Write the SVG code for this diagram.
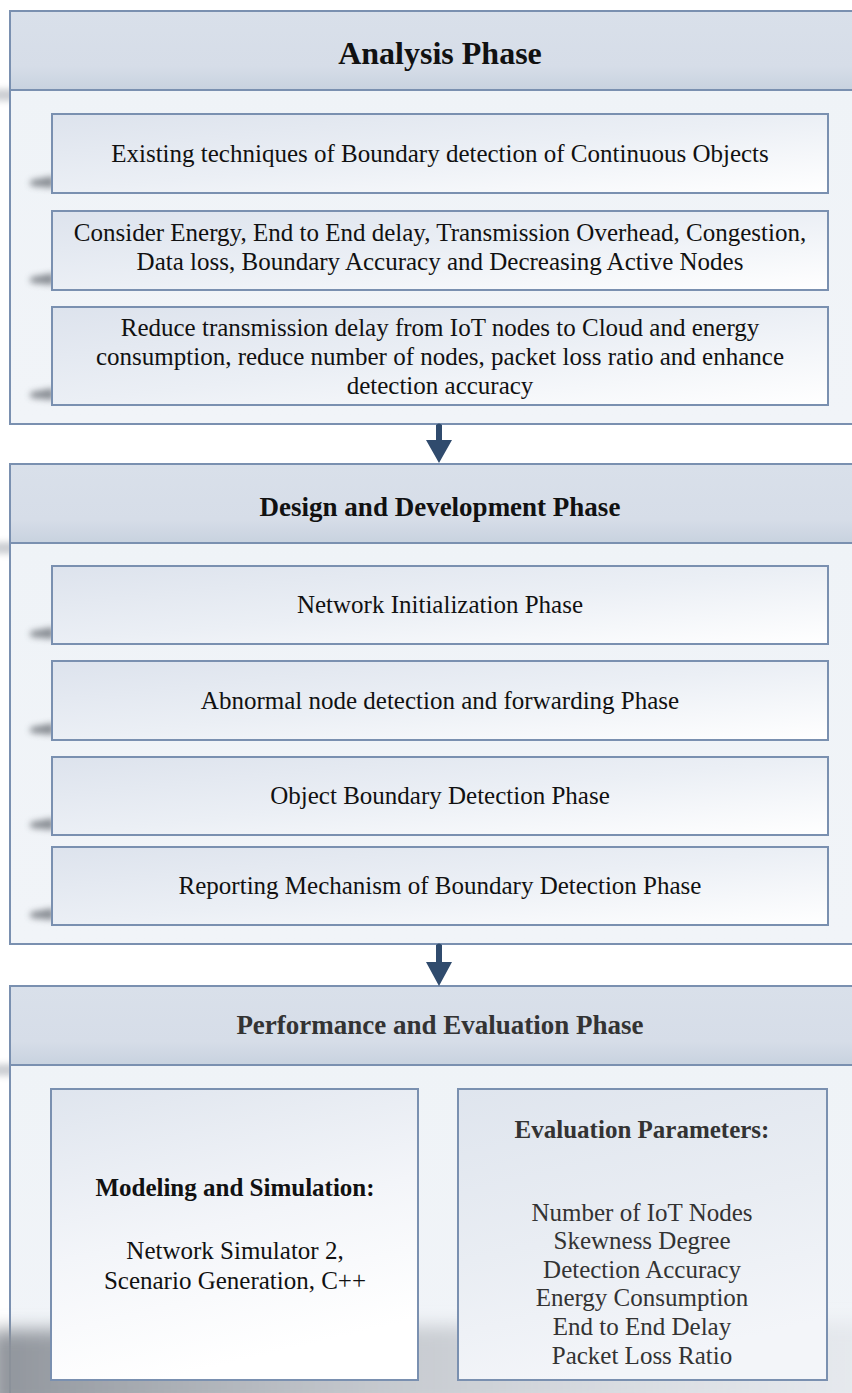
<svg xmlns="http://www.w3.org/2000/svg" width="852" height="1393" viewBox="0 0 852 1393">
  <defs>
    <linearGradient id="hdr" x1="0" y1="0" x2="0" y2="1">
      <stop offset="0" stop-color="#d9e0ea"/>
      <stop offset="0.7" stop-color="#d6dde8"/>
      <stop offset="1" stop-color="#c8d2df"/>
    </linearGradient>
    <linearGradient id="body" x1="0" y1="0" x2="0" y2="1">
      <stop offset="0" stop-color="#e6ebf2"/>
      <stop offset="0.15" stop-color="#eff3f7"/>
      <stop offset="1" stop-color="#f1f4f8"/>
    </linearGradient>
    <linearGradient id="item" x1="0" y1="0" x2="1" y2="1">
      <stop offset="0" stop-color="#dde3ed"/>
      <stop offset="0.5" stop-color="#ebeff5"/>
      <stop offset="1" stop-color="#ffffff"/>
    </linearGradient>
    <linearGradient id="tall" x1="0" y1="0" x2="0.3" y2="1">
      <stop offset="0" stop-color="#dfe5ee"/>
      <stop offset="0.55" stop-color="#f3f5f9"/>
      <stop offset="1" stop-color="#ffffff"/>
    </linearGradient>
    <linearGradient id="tallR" x1="0" y1="0" x2="0.3" y2="1">
      <stop offset="0" stop-color="#dfe5ee"/>
      <stop offset="0.55" stop-color="#e9edf3"/>
      <stop offset="1" stop-color="#f3f5f9"/>
    </linearGradient>
    <linearGradient id="floor" x1="0" y1="0" x2="1" y2="0">
      <stop offset="0" stop-color="#8a8f96" stop-opacity="0.95"/>
      <stop offset="0.45" stop-color="#b4b8be" stop-opacity="0.7"/>
      <stop offset="1" stop-color="#d8dbe0" stop-opacity="0.4"/>
    </linearGradient>
    <filter id="soft" x="-50%" y="-200%" width="200%" height="500%">
      <feGaussianBlur stdDeviation="3"/>
    </filter>
    <filter id="wide" x="-20%" y="-50%" width="140%" height="200%">
      <feGaussianBlur stdDeviation="9"/>
    </filter>
    <style>
      .frame { stroke: #7a90b0; stroke-width: 2; }
      .item { fill: url(#item); stroke: #7a90b0; stroke-width: 2; }
      .shade { fill: #6f747b; opacity: 0.8; filter: url(#soft); }
      .hshade { fill: #a9aeb5; opacity: 0.6; filter: url(#soft); }
      text { font-family: "Liberation Serif", "Times New Roman", serif; fill: #111; text-anchor: middle; }
      .t1 { font-size: 32px; font-weight: bold; }
      .t2 { font-size: 27px; font-weight: bold; }
      .t3 { font-size: 27px; font-weight: bold; fill: #333; }
      .b { font-size: 25px; }
      .bb { font-size: 25px; font-weight: bold; }
      .g { fill: #333; }
      .arrow { fill: #304b6d; }
    </style>
    <!-- tapered drop shadow cast to the lower left of each item box -->
    <path id="wedge" d="M0 -7 L-22 -3 Q-26 0 -22 3 L0 5 Z"/>
  </defs>

  <!-- Analysis phase -->
  <g id="analysis">
    <ellipse class="hshade" cx="6" cy="95" rx="30" ry="6"/>
    <rect class="frame" x="10" y="11" width="860" height="413" fill="url(#body)"/>
    <rect class="frame" x="10" y="11" width="860" height="79" fill="url(#hdr)"/>
    <text class="t1" x="440" y="64">Analysis Phase</text>
  </g>
  <g id="a1">
    <use href="#wedge" class="shade" x="54" y="183"/>
    <rect class="item" x="52" y="114" width="776" height="79"/>
    <text class="b" x="440" y="162">Existing techniques of Boundary detection of Continuous Objects</text>
  </g>
  <g id="a2">
    <use href="#wedge" class="shade" x="54" y="280"/>
    <rect class="item" x="52" y="211" width="776" height="79"/>
    <text class="b" x="440" y="241">Consider Energy, End to End delay, Transmission Overhead, Congestion,</text>
    <text class="b" x="440" y="270">Data loss, Boundary Accuracy and Decreasing Active Nodes</text>
  </g>
  <g id="a3">
    <use href="#wedge" class="shade" x="54" y="395"/>
    <rect class="item" x="52" y="307" width="776" height="98"/>
    <text class="b" x="440" y="336">Reduce transmission delay from IoT nodes to Cloud and energy</text>
    <text class="b" x="440" y="365">consumption, reduce number of nodes, packet loss ratio and enhance</text>
    <text class="b" x="440" y="394">detection accuracy</text>
  </g>

  <!-- Design and development phase -->
  <g id="design">
    <ellipse class="hshade" cx="6" cy="548" rx="30" ry="6"/>
    <rect class="frame" x="10" y="464" width="860" height="480" fill="url(#body)"/>
    <rect class="frame" x="10" y="464" width="860" height="79" fill="url(#hdr)"/>
    <text class="t2" x="440" y="516">Design and Development Phase</text>
  </g>
  <g id="d1">
    <use href="#wedge" class="shade" x="54" y="634"/>
    <rect class="item" x="52" y="566" width="776" height="78"/>
    <text class="b" x="440" y="613">Network Initialization Phase</text>
  </g>
  <g id="d2">
    <use href="#wedge" class="shade" x="54" y="730"/>
    <rect class="item" x="52" y="661" width="776" height="79"/>
    <text class="b" x="440" y="709">Abnormal node detection and forwarding Phase</text>
  </g>
  <g id="d3">
    <use href="#wedge" class="shade" x="54" y="825"/>
    <rect class="item" x="52" y="757" width="776" height="78"/>
    <text class="b" x="440" y="804">Object Boundary Detection Phase</text>
  </g>
  <g id="d4">
    <use href="#wedge" class="shade" x="54" y="915"/>
    <rect class="item" x="52" y="847" width="776" height="78"/>
    <text class="b" x="440" y="894">Reporting Mechanism of Boundary Detection Phase</text>
  </g>

  <!-- Performance and evaluation phase -->
  <g id="performance">
    <ellipse class="hshade" cx="6" cy="1070" rx="30" ry="6"/>
    <rect class="frame" x="10" y="986" width="860" height="430" fill="url(#body)"/>
    <rect class="frame" x="10" y="986" width="860" height="79" fill="url(#hdr)"/>
    <text class="t3" x="440" y="1034">Performance and Evaluation Phase</text>
  </g>
  <!-- floor shading behind the two lower panels -->
  <path d="M-10 1330 L880 1322 L880 1410 L-10 1410 Z" fill="url(#floor)" filter="url(#wide)"/>
  <g id="modeling">
    <rect x="51" y="1089" width="367" height="291" fill="url(#tall)" stroke="#7a90b0" stroke-width="2"/>
    <text class="bb" x="235" y="1196">Modeling and Simulation:</text>
    <text class="b" x="235" y="1259">Network Simulator 2,</text>
    <text class="b" x="235" y="1289">Scenario Generation, C++</text>
  </g>
  <g id="parameters">
    <rect x="458" y="1089" width="369" height="291" fill="url(#tallR)" stroke="#7a90b0" stroke-width="2"/>
    <text class="bb g" x="642" y="1138">Evaluation Parameters:</text>
    <text class="b g" x="642" y="1221">Number of IoT Nodes</text>
    <text class="b g" x="642" y="1249">Skewness Degree</text>
    <text class="b g" x="642" y="1278">Detection Accuracy</text>
    <text class="b g" x="642" y="1306">Energy Consumption</text>
    <text class="b g" x="642" y="1335">End to End Delay</text>
    <text class="b g" x="642" y="1364">Packet Loss Ratio</text>
  </g>

  <!-- connectors between phases -->
  <g id="connectors">
    <path class="arrow" d="M436 425 Q439 422 442 425 L442 440 L452 440 L439 463 L426 440 L436 440 Z"/>
    <path class="arrow" d="M436 945 Q439 942 442 945 L442 962 L452 962 L439 986 L426 962 L436 962 Z"/>
  </g>
</svg>
